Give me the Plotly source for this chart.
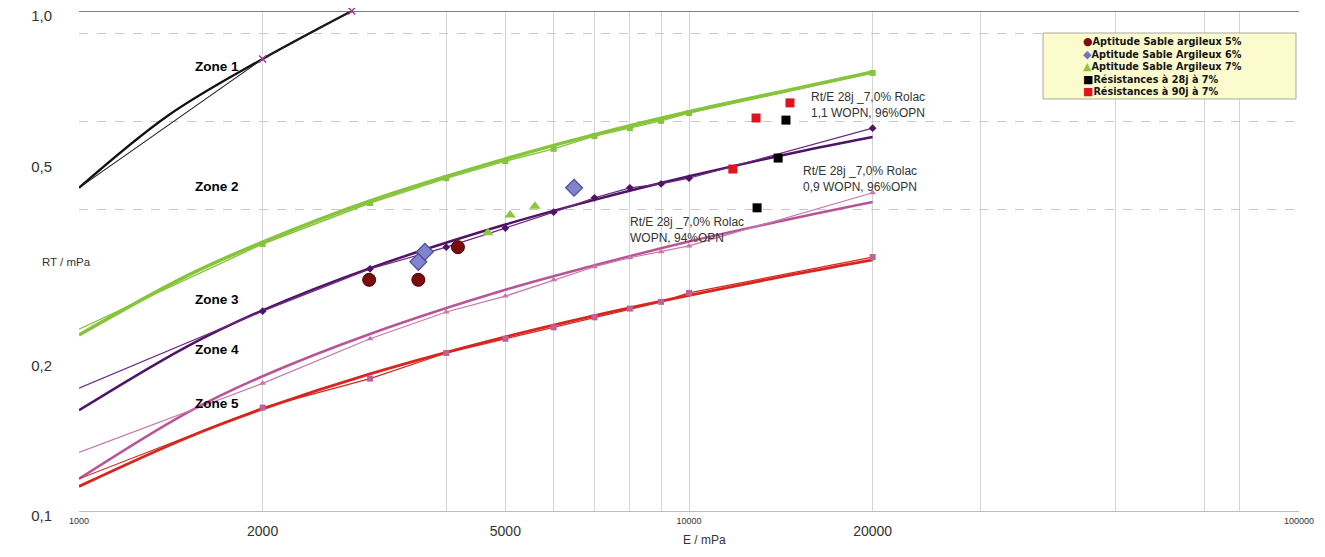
import plotly.graph_objects as go

# ---------------- data ----------------
E_pts = [1000, 2000, 3000, 4000, 5000, 6000, 7000, 8000, 9000, 10000, 20000]
green_pts = [0.231, 0.342, 0.413, 0.463, 0.501, 0.530, 0.562, 0.583, 0.603, 0.625, 0.752]
purple_pts = [0.176, 0.251, 0.305, 0.337, 0.368, 0.396, 0.423, 0.443, 0.451, 0.463, 0.583]
pink_pts = [0.131, 0.180, 0.221, 0.250, 0.269, 0.290, 0.308, 0.321, 0.330, 0.339, 0.433]
red_pts = [0.116, 0.161, 0.184, 0.207, 0.221, 0.233, 0.244, 0.254, 0.262, 0.273, 0.322]

E_black = [1000, 2000, 2800]
black_pts = [0.443, 0.802, 1.0]

E_fit = [1000, 1500, 2000, 3000, 5000, 7000, 10000, 15000, 20000]
green_fit = [0.225, 0.295, 0.345, 0.417, 0.506, 0.566, 0.629, 0.700, 0.755]
purple_fit = [0.159, 0.213, 0.252, 0.306, 0.374, 0.419, 0.467, 0.522, 0.560]
pink_fit = [0.116, 0.157, 0.186, 0.226, 0.277, 0.310, 0.346, 0.386, 0.415]
red_fit = [0.112, 0.140, 0.160, 0.188, 0.223, 0.246, 0.270, 0.298, 0.318]
E_black_fit = [1000, 1400, 2000, 2800]
black_fit = [0.443, 0.618, 0.802, 1.0]

E_s5 = [2990, 3600, 4180]
RT_s5 = [0.290, 0.290, 0.337]
E_s6 = [3600, 3690, 6480]
RT_s6 = [0.315, 0.330, 0.443]
E_s7 = [4680, 5090, 5590]
RT_s7 = [0.360, 0.391, 0.407]
E_r28 = [12930, 14000, 14420]
RT_r28 = [0.404, 0.508, 0.605]
E_r90 = [11800, 12880, 14640]
RT_r90 = [0.483, 0.611, 0.655]

x_grid = [1000, 2000, 4000, 5000, 6000, 7000, 8000, 9000, 10000, 20000, 30000, 50000, 70000, 80000, 100000]
x_big_labels = {2000: "2000", 5000: "5000", 20000: "20000"}
x_small_ticks = [1000, 10000, 100000]
x_small_labels = ["1000", "10000", "100000"]
y_ticks = [0.1, 0.2, 0.5, 1.0]
y_labels = ["0,1", "0,2", "0,5", "1,0"]
y_dashed = [0.4, 0.6, 0.9]

zone_labels = ["Zone 1", "Zone 2", "Zone 3", "Zone 4", "Zone 5"]
legend_names = ["Aptitude Sable argileux 5%", "Aptitude Sable Argileux 6%", "Aptitude Sable Argileux 7%",
                "Résistances à 28j à 7%", "Résistances à 90j à 7%"]
legend_glyphs = ["●", "◆", "▲", "■", "■"]
note_texts = ["Rt/E 28j _7,0% Rolac<br>1,1 WOPN, 96%OPN",
              "Rt/E 28j _7,0% Rolac<br>0,9 WOPN, 96%OPN",
              "Rt/E 28j _7,0% Rolac<br>WOPN, 94%OPN"]

# ---------------- styles ----------------
FONT = "Arial, Liberation Sans, sans-serif"
LEG_FONT = "DejaVu Sans, Arial, sans-serif"
C_GREEN = "#86C43C"
C_PURPLE = "#4E1466"
C_PURPLE_T = "#6C2A80"
C_PINK = "#B85598"
C_PINK_T = "#C778A8"
C_RED = "#D8261F"
C_RED_MK = "#C0609A"
C_BLACK = "#111111"

fig = go.Figure()

# thick trend curves
for xs, ys, col, w in [(E_fit, green_fit, C_GREEN, 3.5),
                       (E_fit, purple_fit, C_PURPLE, 2.5),
                       (E_fit, pink_fit, C_PINK, 2.5),
                       (E_fit, red_fit, C_RED, 2.8),
                       (E_black_fit, black_fit, C_BLACK, 2.3)]:
    fig.add_trace(go.Scatter(x=xs, y=ys, mode="lines", line=dict(color=col, width=w, shape="spline", smoothing=1.0),
                             showlegend=False, hoverinfo="skip"))

# thin lines with markers
fig.add_trace(go.Scatter(x=E_pts, y=green_pts, mode="lines+markers", line=dict(color=C_GREEN, width=1.4),
                         marker=dict(symbol="square", size=6, color=C_GREEN), showlegend=False))
fig.add_trace(go.Scatter(x=E_pts, y=purple_pts, mode="lines+markers", line=dict(color=C_PURPLE_T, width=1.2),
                         marker=dict(symbol="diamond", size=6, color=C_PURPLE), showlegend=False))
fig.add_trace(go.Scatter(x=E_pts, y=pink_pts, mode="lines+markers", line=dict(color=C_PINK_T, width=1.2),
                         marker=dict(symbol="triangle-up", size=6, color=C_PINK_T), showlegend=False))
fig.add_trace(go.Scatter(x=E_pts, y=red_pts, mode="lines+markers", line=dict(color=C_RED, width=1.2),
                         marker=dict(symbol="square", size=6, color=C_RED_MK), showlegend=False))
fig.add_trace(go.Scatter(x=E_black, y=black_pts, mode="lines+markers", line=dict(color="#222222", width=1.1),
                         marker=dict(symbol="x-thin", size=7, color="#9A3D8E", line=dict(width=1.5, color="#9A3D8E")),
                         showlegend=False, cliponaxis=False))

# scatter data points
fig.add_trace(go.Scatter(x=E_s5, y=RT_s5, mode="markers", name=legend_names[0],
                         marker=dict(symbol="circle", size=13, color="#7A0C0C", line=dict(color="#4A0000", width=1)),
                         showlegend=False))
fig.add_trace(go.Scatter(x=E_s6, y=RT_s6, mode="markers", name=legend_names[1],
                         marker=dict(symbol="diamond", size=13, color="#8084CC", line=dict(color="#4A4C99", width=1.2)),
                         showlegend=False))
fig.add_trace(go.Scatter(x=E_s7, y=RT_s7, mode="markers", name=legend_names[2],
                         marker=dict(symbol="triangle-up", size=10, color="#8CC63F"), showlegend=False))
fig.add_trace(go.Scatter(x=E_r28, y=RT_r28, mode="markers", name=legend_names[3],
                         marker=dict(symbol="square", size=9, color="#000000"), showlegend=False))
fig.add_trace(go.Scatter(x=E_r90, y=RT_r90, mode="markers", name=legend_names[4],
                         marker=dict(symbol="square", size=9, color="#E0141C"), showlegend=False))

# anchor trace for the secondary (small-label) x axis, draws nothing
fig.add_trace(go.Scatter(x=x_small_ticks, y=[None] * len(x_small_ticks), xaxis="x2", mode="markers",
                         showlegend=False, hoverinfo="skip"))

# ---------------- layout ----------------
# the page body has an 8px margin, so the figure is placed at (8, 8) in the window
OFF = 8
W, H = 1325 - OFF, 557 - OFF
PL, PT, PR, PB = 79, 11, 1299, 511          # plot area in window pixels
ML, MT = PL - OFF, PT - OFF
MR, MB = W - (PR - OFF), H - (PB - OFF)
PW, PH = PR - PL, PB - PT


def px(xpix):
    return (xpix - PL) / PW


def py(ypix):
    return (PB - ypix) / PH


annotations = []
# zone labels
for lab, ypix in zip(zone_labels, [57, 177, 299, 359, 413]):
    annotations.append(dict(text="<b>" + lab + "</b>", x=px(193), y=py(ypix), xref="paper", yref="paper",
                            showarrow=False, font=dict(family=FONT, size=13.5, color="#000")))
# notes
for txt, (xp, yp) in zip(note_texts, [(809, 104.5), (801, 179.5), (628, 229.5)]):
    annotations.append(dict(text=txt, x=px(xp), y=py(yp), xref="paper", yref="paper", xanchor="left",
                            yanchor="middle", align="left", showarrow=False,
                            font=dict(family=FONT, size=12, color="#333")))
# axis titles
annotations.append(dict(text="E / mPa", x=px(705), y=py(549), xref="paper", yref="paper", showarrow=False,
                        font=dict(family=FONT, size=12, color="#333")))
annotations.append(dict(text="RT / mPa", x=px(40), y=py(262), xref="paper", yref="paper", showarrow=False,
                        font=dict(family=FONT, size=11.5, color="#333")))
# custom legend (one text block)
legend_colors = ["#7A0C0C", "#6F74C4", "#8CC63F", "#000000", "#E0141C"]
legend_lines = ['<span style="color:%s;font-size:11px">%s</span><b>%s</b>' % (c, g, n)
                for g, c, n in zip(legend_glyphs, legend_colors, legend_names)]
annotations.append(dict(text="<br>".join(legend_lines), x=px(1081), y=py(67), xref="paper", yref="paper",
                        xanchor="left", yanchor="middle", align="left", showarrow=False,
                        font=dict(family=LEG_FONT, size=9.7, color="#151515")))

shapes = [
    dict(type="rect", xref="paper", yref="paper", x0=px(1043), x1=px(1296), y0=py(99), y1=py(33),
         fillcolor="#FBFBCD", line=dict(color="#A8A8A0", width=1), layer="above"),
    dict(type="line", xref="paper", yref="y", x0=0, x1=1, y0=y_ticks[-1], y1=y_ticks[-1],
         line=dict(color="#555555", width=1.5), layer="above"),
]

fig.update_layout(
    width=W, height=H,
    margin=dict(l=ML, r=MR, t=MT, b=MB, autoexpand=False),
    paper_bgcolor="white", plot_bgcolor="white",
    font=dict(family=FONT, color="#333"),
    showlegend=False,
    annotations=annotations,
    shapes=shapes,
    xaxis=dict(type="log", range=[3, 5], tickmode="array", tickvals=x_grid,
               ticktext=[x_big_labels.get(v, "") for v in x_grid], automargin=False,
               showgrid=True, gridcolor="#D4D4D4", gridwidth=1, ticks="", zeroline=False,
               showline=True, linecolor="#BDBDBD", linewidth=1.2, ticklabeloverflow="allow",
               tickfont=dict(family=FONT, size=14, color="#333"), ticklabelstandoff=7),
    xaxis2=dict(type="log", range=[3, 5], overlaying="x", anchor="y", side="bottom", tickmode="array",
                tickvals=x_small_ticks, ticktext=x_small_labels, showgrid=False, ticks="", zeroline=False,
                showline=False, automargin=False, ticklabeloverflow="allow",
                tickfont=dict(family=FONT, size=9, color="#333"), ticklabelstandoff=3),
    yaxis=dict(type="log", range=[-1, 0], tickmode="array", tickvals=y_ticks, ticktext=y_labels,
               showgrid=False, ticks="", zeroline=False, showline=False, automargin=False,
               ticklabeloverflow="allow", ticklabelshift=5,
               tickfont=dict(family=FONT, size=15, color="#333"), ticklabelstandoff=26,
               minor=dict(tickmode="array", tickvals=y_dashed, showgrid=True, gridcolor="#C8C8C8",
                          griddash="dash", gridwidth=1, ticks="")),
)

fig.write_html("out.html")
